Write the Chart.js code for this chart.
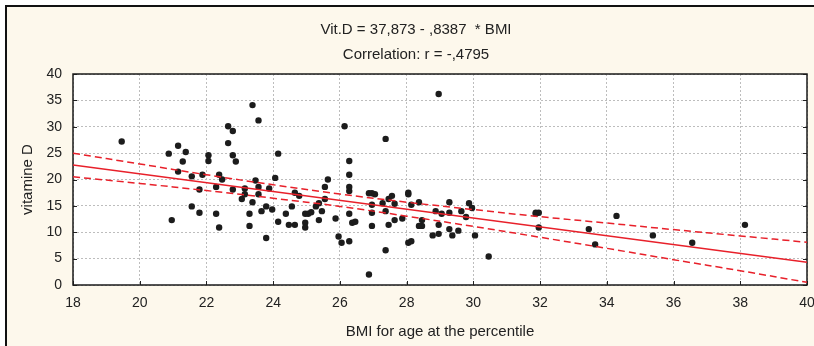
<!DOCTYPE html>
<html>
<head>
<meta charset="utf-8">
<script src="https://cdn.jsdelivr.net/npm/chart.js@4"></script>
<style>
  body { margin: 0; background: #ffffff; }
  #wrap { width: 814px; height: 346px; }
</style>
</head>
<body>
<div id="wrap"><canvas id="scatter-chart" width="814" height="346"></canvas></div>
<script>
// Chart data
const titleLines = ["Vit.D = 37,873 - ,8387  * BMI", "Correlation: r = -,4795"];
const xTitle = "BMI for age at the percentile";
const yTitle = "vitamine D";

const bmi = [
  19.46, 20.87, 21.15, 20.96, 21.29, 21.38, 21.15, 21.56, 21.56, 21.79,
  21.79, 21.88, 22.06, 22.06, 22.29, 22.29, 22.38, 22.47, 22.38, 22.65,
  22.65, 22.79, 22.79, 22.88, 22.79, 23.06, 23.15, 23.15, 23.29, 23.29,
  23.38, 23.38, 23.47, 23.56, 23.56, 23.56, 23.65, 23.79, 23.79, 23.88,
  23.97, 24.06, 24.15, 24.15, 24.38, 24.47, 24.56, 24.65, 24.65, 24.78,
  24.96, 24.96, 24.96, 25.05, 25.14, 25.28, 25.37, 25.37, 25.46, 25.55,
  25.55, 25.64, 25.87, 25.96, 26.05, 26.14, 26.28, 26.28, 26.28, 26.28,
  26.28, 26.28, 26.37, 26.46, 26.87, 26.87, 26.96, 27.05, 26.96, 26.96,
  26.96, 27.28, 27.37, 27.37, 27.37, 27.46, 27.46, 27.56, 27.64, 27.64,
  27.87, 28.05, 28.05, 28.05, 28.14, 28.14, 28.37, 28.37, 28.46, 28.46,
  28.78, 28.87, 28.96, 28.96, 28.96, 29.05, 29.28, 29.28, 29.28, 29.37,
  29.55, 29.64, 29.78, 29.87, 29.96, 30.05, 30.46, 31.87, 31.96, 31.87,
  31.96, 33.46, 33.65, 34.29, 35.38, 36.56, 38.14
];
const vitD = [
  27.2, 24.9, 26.4, 12.3, 23.4, 25.2, 21.5, 20.6, 14.9, 18.1,
  13.7, 20.9, 24.6, 23.5, 18.6, 13.5, 20.9, 20.0, 10.9, 30.1,
  26.9, 29.2, 24.6, 23.4, 18.1, 16.3, 18.3, 17.2, 13.5, 11.2,
  34.1, 15.7, 19.8, 31.2, 18.6, 17.2, 14.0, 8.9, 14.9, 18.3,
  14.3, 20.3, 24.9, 12.0, 13.5, 11.4, 14.9, 17.5, 11.4, 16.9,
  13.5, 11.8, 10.9, 13.5, 13.8, 14.9, 15.5, 12.3, 14.0, 18.6,
  16.3, 20.0, 12.6, 9.2, 8.0, 30.1, 23.5, 20.9, 18.6, 17.8,
  13.5, 8.3, 11.8, 12.0, 2.0, 17.4, 17.4, 17.2, 15.2, 13.7,
  11.2, 15.5, 27.7, 14.0, 6.6, 11.4, 16.3, 16.9, 15.4, 12.3,
  12.6, 17.5, 17.2, 8.0, 8.3, 15.2, 15.7, 11.2, 11.2, 12.3,
  9.4, 14.0, 36.2, 11.4, 9.7, 13.5, 15.7, 13.7, 10.6, 9.4,
  10.3, 14.0, 12.9, 15.5, 14.6, 9.4, 5.4, 13.7, 13.7, 13.5,
  10.9, 10.6, 7.7, 13.1, 9.4, 8.0, 11.4
];

// Regression line end points and 95% band
const fitX = [18, 40];
const fitY = [22.77, 4.32];
const bandX = [18, 20, 22, 24, 26, 28, 30, 32, 34, 36, 38, 40];
const bandUpper = [25.0, 22.95, 20.9, 19.0, 17.25, 15.7, 14.3, 12.95, 11.75, 10.5, 9.3, 8.1];
const bandLower = [20.5, 19.25, 17.9, 16.45, 14.9, 13.05, 11.1, 9.05, 6.95, 4.8, 2.7, 0.5];

const xTicks = [18, 20, 22, 24, 26, 28, 30, 32, 34, 36, 38, 40];
const yTicks = [0, 5, 10, 15, 20, 25, 30, 35, 40];

const fontFamily = "'Liberation Sans', Arial, sans-serif";
const red = "#e8202a";
const cream = "#fdf8ec";

const toPoints = (xs, ys) => xs.map((x, i) => ({ x: x, y: ys[i] }));

// Frame, plot background, inner tick marks and header text
const framePlugin = {
  id: "frame",
  beforeDraw(chart) {
    const { ctx, chartArea } = chart;
    ctx.save();
    ctx.fillStyle = "#ffffff";
    ctx.fillRect(0, 0, chart.width, chart.height);
    ctx.fillStyle = cream;
    ctx.fillRect(6, 6, chart.width, chart.height);
    ctx.strokeStyle = "#111111";
    ctx.lineWidth = 2;
    ctx.beginPath();
    ctx.moveTo(6, chart.height);
    ctx.lineTo(6, 6);
    ctx.lineTo(chart.width, 6);
    ctx.stroke();
    ctx.fillStyle = "#ffffff";
    ctx.fillRect(chartArea.left, chartArea.top, chartArea.right - chartArea.left, chartArea.bottom - chartArea.top);
    ctx.restore();
  },
  beforeDatasetsDraw(chart) {
    const { ctx, chartArea, scales } = chart;
    ctx.save();
    ctx.strokeStyle = "#222222";
    ctx.lineWidth = 1;
    ctx.beginPath();
    xTicks.forEach((t) => {
      const px = Math.round(scales.x.getPixelForValue(t)) + 0.5;
      ctx.moveTo(px, chartArea.bottom);
      ctx.lineTo(px, chartArea.bottom - 4);
    });
    yTicks.forEach((t) => {
      const py = Math.round(scales.y.getPixelForValue(t)) + 0.5;
      ctx.moveTo(chartArea.left, py);
      ctx.lineTo(chartArea.left + 4, py);
      ctx.moveTo(chartArea.right, py);
      ctx.lineTo(chartArea.right - 4, py);
    });
    ctx.stroke();
    ctx.lineWidth = 1.5;
    ctx.strokeStyle = "#1a1a1a";
    ctx.strokeRect(chartArea.left, chartArea.top, chartArea.right - chartArea.left, chartArea.bottom - chartArea.top);
    ctx.restore();
  },
  afterDraw(chart) {
    const { ctx } = chart;
    ctx.save();
    ctx.fillStyle = "#222222";
    ctx.font = "15px " + fontFamily;
    ctx.textAlign = "center";
    ctx.textBaseline = "middle";
    ctx.fillText(titleLines[0], 416, 30);
    ctx.fillText(titleLines[1], 416, 55);
    ctx.restore();
  },
};

const ctx = document.querySelector("#scatter-chart");

const scatterChart = new Chart(ctx, {
  type: "scatter",
  data: {
    datasets: [
      {
        type: "line",
        data: toPoints(bandX, bandUpper),
        borderColor: red,
        borderWidth: 1.5,
        borderDash: [7, 4],
        pointRadius: 0,
        tension: 0.4,
        fill: false,
      },
      {
        type: "line",
        data: toPoints(bandX, bandLower),
        borderColor: red,
        borderWidth: 1.5,
        borderDash: [7, 4],
        pointRadius: 0,
        tension: 0.4,
        fill: false,
      },
      {
        type: "line",
        data: toPoints(fitX, fitY),
        borderColor: red,
        borderWidth: 1.5,
        pointRadius: 0,
        fill: false,
      },
      {
        data: toPoints(bmi, vitD),
        backgroundColor: "#1c1c1c",
        borderColor: "#1c1c1c",
        pointRadius: 3.2,
        borderWidth: 0,
      },
    ],
  },
  options: {
    responsive: false,
    animation: false,
    devicePixelRatio: 1,
    layout: { padding: { left: 0, right: 7, top: 74, bottom: 0 } },
    plugins: {
      legend: { display: false },
      tooltip: { enabled: false },
    },
    scales: {
      x: {
        type: "linear",
        min: 18,
        max: 40,
        afterFit(scale) {
          scale.height = 61;
          scale.paddingLeft = 0;
          scale.paddingRight = 0;
        },
        afterBuildTicks(scale) {
          scale.ticks = xTicks.map((v) => ({ value: v }));
        },
        grid: { color: "#bdbdbd", lineWidth: 1, drawTicks: false },
        border: { display: false, dash: [2, 2] },
        ticks: {
          padding: 10,
          color: "#222222",
          font: { family: fontFamily, size: 14 },
          maxRotation: 0,
          autoSkip: false,
        },
        title: {
          display: true,
          text: xTitle,
          color: "#222222",
          font: { family: fontFamily, size: 15 },
          padding: { top: 0, bottom: 5 },
        },
      },
      y: {
        type: "linear",
        min: 0,
        max: 40,
        afterFit(scale) {
          scale.width = 73;
          scale.paddingTop = 0;
          scale.paddingBottom = 0;
        },
        afterBuildTicks(scale) {
          scale.ticks = yTicks.map((v) => ({ value: v }));
        },
        grid: { color: "#bdbdbd", lineWidth: 1, drawTicks: false },
        border: { display: false, dash: [2, 2] },
        ticks: {
          padding: 11,
          color: "#222222",
          font: { family: fontFamily, size: 14 },
          autoSkip: false,
        },
        title: {
          display: true,
          text: yTitle,
          color: "#222222",
          font: { family: fontFamily, size: 15 },
          padding: { top: 19, bottom: 0 },
        },
      },
    },
  },
  plugins: [framePlugin],
});
</script>
</body>
</html>
